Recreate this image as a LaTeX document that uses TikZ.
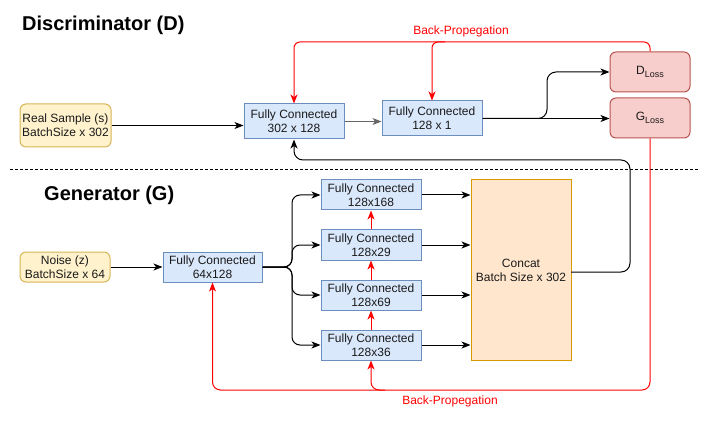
\documentclass[tikz,border=0pt]{standalone}
\usepackage{fontspec}
\setmainfont{Liberation Sans}
\usetikzlibrary{arrows.meta}
\definecolor{bfill}{HTML}{DAE8FC}\definecolor{bdraw}{HTML}{6C8EBF}
\definecolor{yfill}{HTML}{FFF2CC}\definecolor{ydraw}{HTML}{D6B656}
\definecolor{rfill}{HTML}{F8CECC}\definecolor{rdraw}{HTML}{B85450}
\definecolor{ofill}{HTML}{FFE6CC}\definecolor{odraw}{HTML}{D79B00}
\definecolor{bpred}{HTML}{FF0000}
\definecolor{txt}{HTML}{1A1A1A}
\tikzset{
  fcbox/.style={draw=bdraw,fill=bfill,line width=1pt,minimum width=100pt,minimum height=30pt,inner sep=0pt,align=center,text=txt,font=\fontsize{12}{14}\selectfont},
  inbox/.style={draw=ydraw,fill=yfill,line width=1pt,rounded corners=6pt,inner sep=0pt,align=center,text=txt,font=\fontsize{12}{14}\selectfont},
  lossbox/.style={draw=rdraw,fill=rfill,line width=1pt,rounded corners=6pt,minimum width=80pt,minimum height=40pt,inner sep=0pt,align=center,text=txt,font=\fontsize{12}{14}\selectfont},
  catbox/.style={draw=odraw,fill=ofill,line width=1pt,minimum width=100pt,minimum height=180pt,inner sep=0pt,align=center,text=txt,font=\fontsize{12}{14}\selectfont},
  title/.style={font=\bfseries\fontsize{20}{24}\selectfont,anchor=west,inner sep=0pt},
  bplabel/.style={text=bpred,font=\fontsize{12}{14}\selectfont,inner sep=0pt},
  flow/.style={draw=black,line width=1pt,-{Stealth[length=9pt,width=7pt,inset=2.5pt]}},
  bp/.style={draw=bpred,line width=1pt,-{Stealth[length=9pt,width=7pt,inset=2.5pt]}},
}
\newcommand{\lossname}[1]{#1{\fontsize{9}{9}\selectfont\raisebox{-3pt}{Loss}}}
\begin{document}
\begin{tikzpicture}[x=1pt,y=-1pt]
\useasboundingbox (0,0) rectangle (712,422);
\node[title] (dtitle) at (22,25) {Discriminator (D)};
\node[title] (gtitle) at (44,195) {Generator (G)};
% Discriminator
\node[inbox,minimum width=91pt,minimum height=43pt] (real) at (65.5,125.5) {Real Sample (s)\\BatchSize x 302};
\node[fcbox,minimum height=35pt] (fc1) at (294,121.5) {Fully Connected\\302 x 128};
\node[fcbox,minimum height=35pt] (fc2) at (432,118.5) {Fully Connected\\128 x 1};
\node[lossbox] (dloss) at (650,72) {\lossname{D}};
\node[lossbox] (gloss) at (650,118) {\lossname{G}};
\node[bplabel] (bptop) at (461,31) {Back-Propegation};
% Generator
\node[inbox,minimum width=90pt,minimum height=30pt] (noise) at (65,267) {Noise (z)\\BatchSize x 64};
\node[fcbox,minimum width=99pt] (fc64) at (212.5,267) {Fully Connected\\64x128};
\node[fcbox] (g1) at (371,195) {Fully Connected\\128x168};
\node[fcbox] (g2) at (371,245) {Fully Connected\\128x29};
\node[fcbox] (g3) at (371,295) {Fully Connected\\128x69};
\node[fcbox] (g4) at (371,345) {Fully Connected\\128x36};
\node[catbox] (cat) at (521,270) {Concat\\Batch Size x 302};
\node[bplabel] (bpbot) at (450,401) {Back-Propegation};
\coordinate (dl0) at (10,170);
\coordinate (dl1) at (698,170);
\coordinate (catout) at (571,272);
\draw[line width=1pt,dash pattern=on 3pt off 2pt] (dl0) -- (dl1);
% D flows
\draw[flow] (real.east) -- (real.east -| fc1.west);
\draw[flow,draw=black!60] (fc1.east) -- (fc1.east -| fc2.west);
\draw[flow] (fc2.east) -- (fc2.east -| gloss.west);
\draw[flow,rounded corners=9pt] (fc2.east) -- (547,118.5) -- (547,72) -- (dloss.west);
\draw[flow,rounded corners=9pt] (catout) -- (630,272) -- (630,160) -- (294,160) -- (fc1.south);
% D back-prop
\draw[bp,rounded corners=6pt] (dloss.north) -- (650,42) -- (294,42) -- (fc1.north);
\draw[bp,rounded corners=6pt] (445,42) -- (432,42) -- (fc2.north);
% G flows
\draw[flow] (noise.east) -- (noise.east -| fc64.west);
\foreach \g in {g1,g2,g3,g4}{
  \draw[flow,rounded corners=8pt] (fc64.east) -- (292,267) -- (292,0 |- \g.west) -- (\g.west);
  \draw[flow] (\g.east) -- (\g.east -| cat.west);
}
% G back-prop
\draw[bp] (g4.north) -- (g3.south);
\draw[bp] (g3.north) -- (g2.south);
\draw[bp] (g2.north) -- (g1.south);
\draw[bp,rounded corners=8pt] (gloss.south) -- (650,390) -- (212.5,390) -- (fc64.south);
\draw[bp,rounded corners=8pt] (385,390) -- (371,390) -- (g4.south);
\end{tikzpicture}
\end{document}
